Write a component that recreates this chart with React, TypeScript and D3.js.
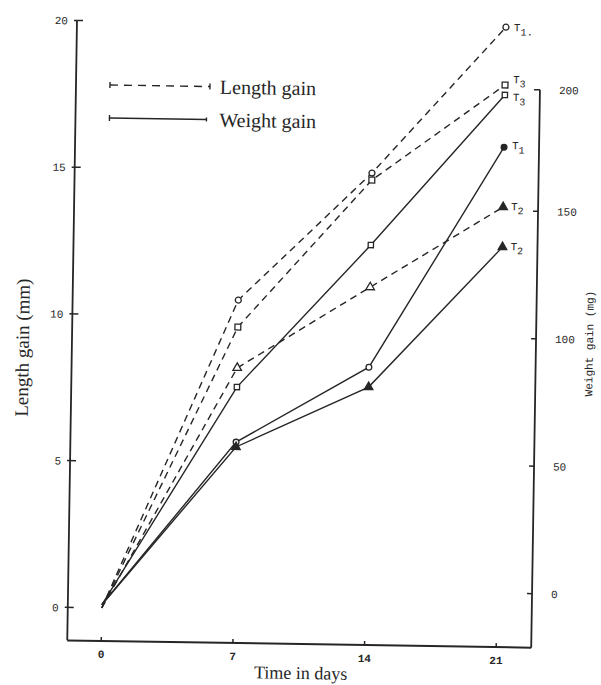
import React from "react";
import * as d3 from "d3";

// values
const days = [0, 7, 14, 21];
const lengthT1 = [0, 10.56, 14.96, 20.0];
const lengthT2 = [0, 8.25, 11.07, 13.87];
const lengthT3 = [0, 9.64, 14.72, 18.03];
const weightT1 = [-7, 57.6, 87.8, 174.9];
const weightT2 = [-7, 55.7, 80, 135.7];
const weightT3 = [-7, 79.2, 135.7, 195.4];

const dayTicks = [0, 7, 14, 21];
const lengthTicks = [0, 5, 10, 15, 20];
const weightTicks = [0, 50, 100, 150, 200];

const ink = "#262626";
const mono = "'Liberation Mono', 'DejaVu Sans Mono', monospace";
const serif = "'Liberation Serif', 'DejaVu Serif', serif";

export default function App() {
  const x = d3.scaleLinear().domain([0, 21]).range([106, 501]);
  const yLen = d3.scaleLinear().domain([0, 20]).range([611, 24]);
  const yWt = d3.scaleLinear().domain([0, 200]).range([590, 80]);

  const left = 72;
  const right = 536;
  const bottom = 644;

  const series = [
    { vals: lengthT1, y: yLen, dash: true, shape: d3.symbolCircle, size: 28, fill: "none", lastFill: "none", sub: "1", after: ".", ldy: 4 },
    { vals: lengthT3, y: yLen, dash: true, shape: d3.symbolSquare, size: 34, fill: "none", lastFill: "none", sub: "3", after: "", ldy: -2 },
    { vals: lengthT2, y: yLen, dash: true, shape: d3.symbolTriangle, size: 32, fill: "none", lastFill: ink, sub: "2", after: "", ldy: 3 },
    { vals: weightT3, y: yWt, dash: false, shape: d3.symbolSquare, size: 28, fill: "none", lastFill: "none", sub: "3", after: "", ldy: 6 },
    { vals: weightT1, y: yWt, dash: false, shape: d3.symbolCircle, size: 26, fill: "none", lastFill: ink, sub: "1", after: "", ldy: 2 },
    { vals: weightT2, y: yWt, dash: false, shape: d3.symbolTriangle, size: 32, fill: ink, lastFill: ink, sub: "2", after: "", ldy: 3 },
  ];

  return (
    <div style={{ position: "absolute", left: 0, top: 0 }}>
      <svg width={601} height={685} style={{ display: "block", background: "#fff" }}>
        <g transform="rotate(0.9 300 340)" fill={ink} stroke="none">
          {/* frame */}
          <line x1={left} y1={yLen(20)} x2={left} y2={bottom} stroke={ink} strokeWidth={1.8} />
          <line x1={left} y1={bottom} x2={right} y2={bottom} stroke={ink} strokeWidth={2} />
          <line x1={right} y1={86} x2={right} y2={bottom} stroke={ink} strokeWidth={1.8} />
          <line x1={right - 6} y1={86} x2={right} y2={86} stroke={ink} strokeWidth={1.5} />

          {/* left axis */}
          {lengthTicks.map((t) => (
            <g key={"l" + t}>
              <line x1={left - 3} x2={left + 6} y1={yLen(t)} y2={yLen(t)} stroke={ink} strokeWidth={1.5} />
              <text x={left - 9} y={yLen(t) + 4} textAnchor="end" fontFamily={mono} fontSize={11}>{t}</text>
            </g>
          ))}
          {/* right axis */}
          {weightTicks.map((t) => (
            <g key={"r" + t}>
              {t < 200 && <line x1={right - 5} x2={right} y1={yWt(t)} y2={yWt(t)} stroke={ink} strokeWidth={1.5} />}
              <text x={right + 19} y={(t === 200 ? 86 : yWt(t)) + 4} fontFamily={mono} fontSize={11}>{t}</text>
            </g>
          ))}
          {/* bottom axis */}
          {dayTicks.map((t) => (
            <g key={"b" + t}>
              <line x1={x(t)} x2={x(t)} y1={bottom - 4} y2={bottom} stroke={ink} strokeWidth={1.5} />
              <text x={x(t)} y={bottom + 17} textAnchor="middle" fontFamily={mono} fontSize={11} fontWeight="bold">{t}</text>
            </g>
          ))}

          <text x={306} y={679} textAnchor="middle" fontFamily={serif} fontSize={18}>Time in days</text>
          <text transform="translate(29 352) rotate(-90)" textAnchor="middle" fontFamily={serif} fontSize={19}>Length gain (mm)</text>
          <text transform="translate(593 339) rotate(-90)" textAnchor="middle" fontFamily={mono} fontSize={11}>Weight gain (mg)</text>

          {/* legend */}
          <line x1={106} x2={206} y1={88} y2={88} stroke={ink} strokeWidth={1.4} strokeDasharray="8 6" />
          <line x1={106} x2={106} y1={85} y2={91} stroke={ink} strokeWidth={1.4} />
          <line x1={206} x2={206} y1={85} y2={91} stroke={ink} strokeWidth={1.4} />
          <text x={216} y={95} fontFamily={serif} fontSize={20}>Length gain</text>
          <line x1={106} x2={203} y1={121} y2={121} stroke={ink} strokeWidth={1.3} />
          <line x1={106} x2={106} y1={118} y2={124} stroke={ink} strokeWidth={1.4} />
          <line x1={203} x2={203} y1={119} y2={123} stroke={ink} strokeWidth={1.4} />
          <text x={216} y={128} fontFamily={serif} fontSize={20}>Weight gain</text>

          {/* series */}
          {series.map((s, i) => {
            const pts: [number, number][] = days.map((d, j) => [x(d), s.y(s.vals[j])]);
            const line = d3.line();
            const sym = d3.symbol().type(s.shape).size(s.size);
            const last = pts[pts.length - 1];
            return (
              <g key={"s" + i}>
                <path d={line(pts) || ""} fill="none" stroke={ink} strokeWidth={1.4}
                  strokeDasharray={s.dash ? "7 5" : undefined} />
                {pts.slice(1).map((p, j) => {
                  const f = j === pts.length - 2 ? s.lastFill : s.fill;
                  return (
                    <path key={j} d={sym() || ""} transform={`translate(${p[0]},${p[1]})`}
                      stroke={ink} strokeWidth={1.3}
                      style={{ fill: f === "none" ? "#fff" : ink }} />
                  );
                })}
                <text x={last[0] + 8} y={last[1] + s.ldy} fontFamily={mono} fontSize={11}>
                  T<tspan dy={4} fontSize={10}>{s.sub}</tspan>{s.after}
                </text>
              </g>
            );
          })}
        </g>
      </svg>
    </div>
  );
}
